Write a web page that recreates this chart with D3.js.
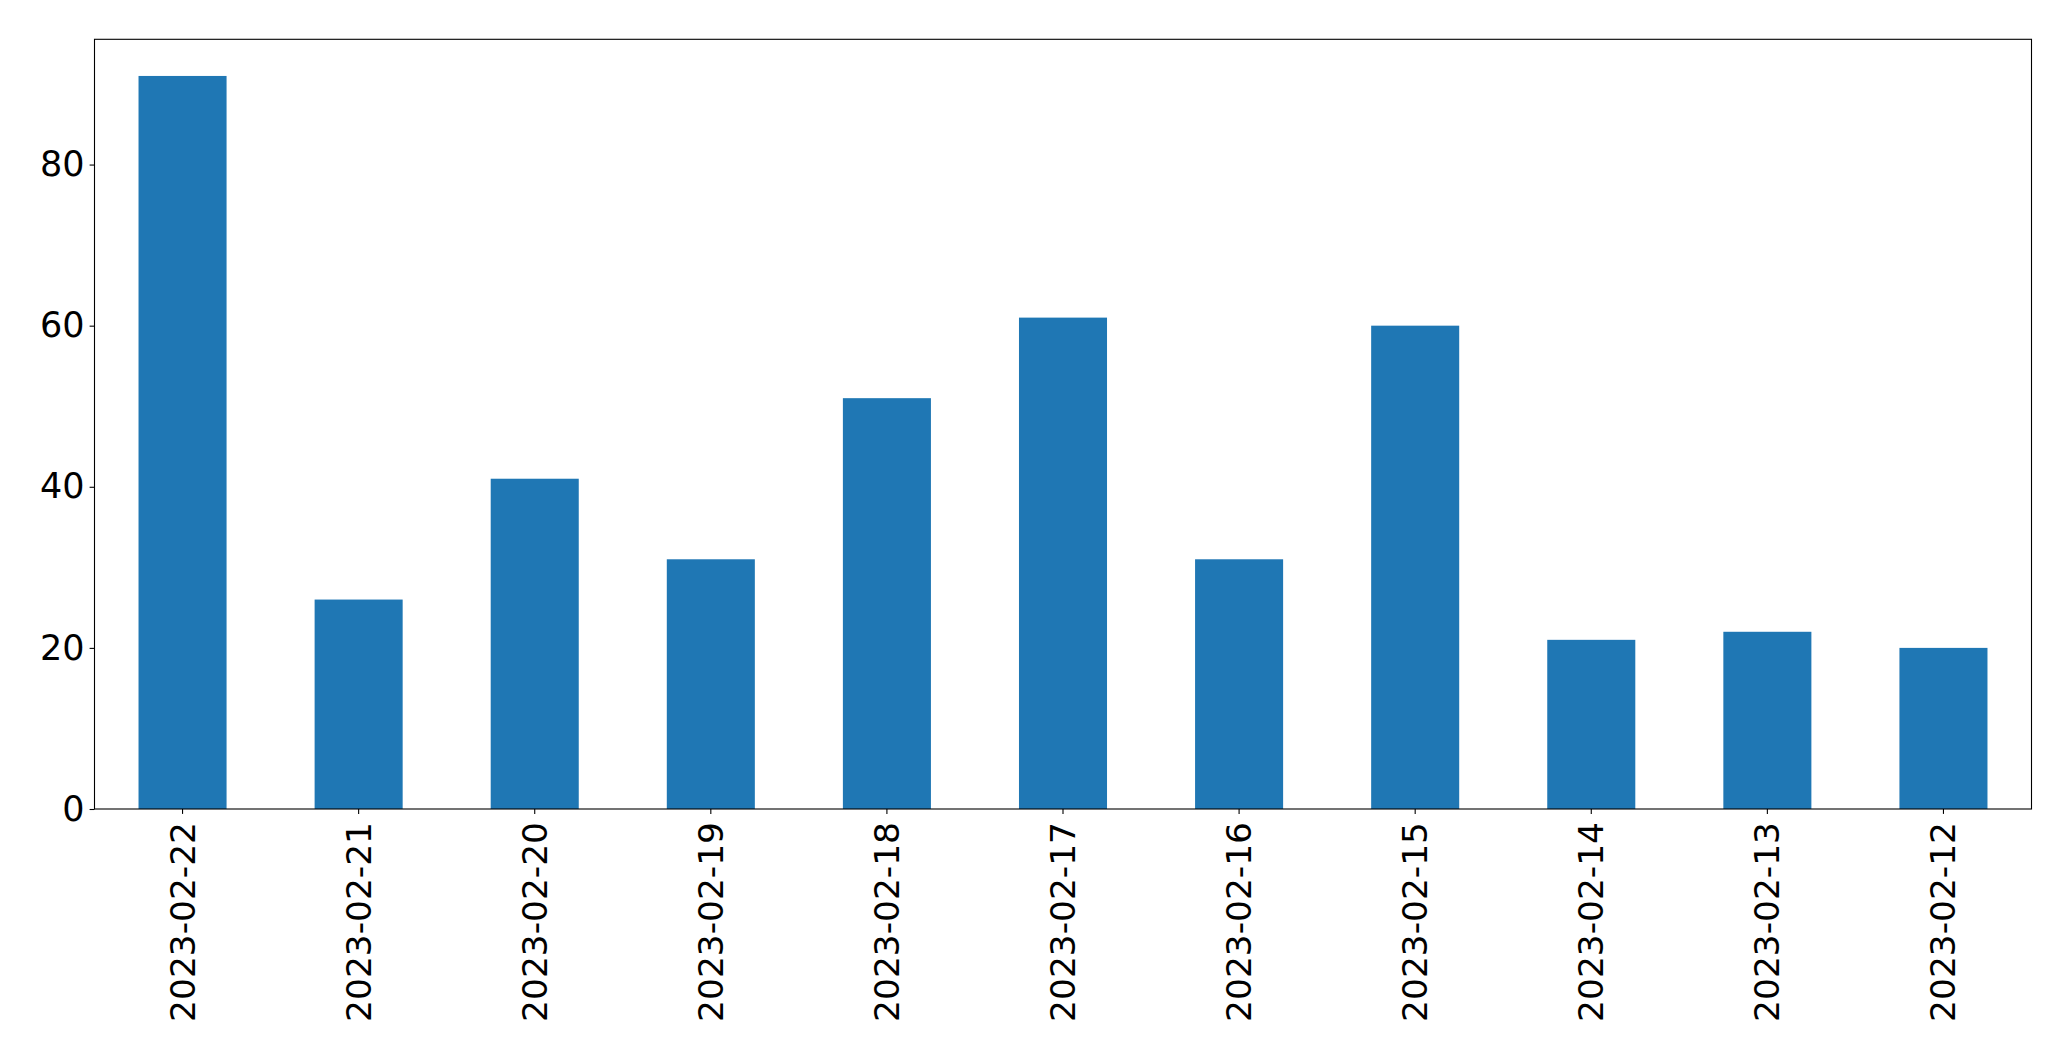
<!DOCTYPE html>
<html><head><meta charset="utf-8">
<script src="https://cdn.jsdelivr.net/npm/d3@7"></script>
<style>html,body{margin:0;padding:0;background:#fff;}svg{display:block;}</style>
</head><body>
<script>
const categories = ["2023-02-22","2023-02-21","2023-02-20","2023-02-19","2023-02-18","2023-02-17","2023-02-16","2023-02-15","2023-02-14","2023-02-13","2023-02-12"];
const values = [91, 26, 41, 31, 51, 61, 31, 60, 21, 22, 20];
const yTicks = [0, 20, 40, 60, 80];

const W = 2071, H = 1061;
const m = {left: 94.5, right: 2031.5, top: 39.3, bottom: 809};
const svg = d3.select("body").append("svg").attr("width", W).attr("height", H);
const font = "'DejaVu Sans', sans-serif";
const fs = 34.4;

const x = d3.scaleBand().domain(categories).range([m.left, m.right]).paddingInner(0.5).paddingOuter(0.25);
const y = d3.scaleLinear().domain([0, d3.max(values) * 1.05]).range([m.bottom, m.top]);

svg.append("g").selectAll("rect").data(values).join("rect")
  .attr("x", (d, i) => x(categories[i]))
  .attr("width", x.bandwidth())
  .attr("y", d => y(d))
  .attr("height", d => y(0) - y(d))
  .attr("fill", "#1f77b4");

// y axis
const ya = svg.append("g").attr("transform", `translate(${m.left},0)`)
  .call(d3.axisLeft(y).tickValues(yTicks).tickSize(4.9).tickPadding(5).tickFormat(d3.format("d")));
ya.select(".domain").remove();
ya.selectAll("line").attr("stroke", "#000").attr("stroke-width", 1.1);
ya.selectAll("text").attr("font-family", font).attr("font-size", 35).attr("fill", "#000");

// x axis
const xa = svg.append("g").attr("transform", `translate(0,${m.bottom})`)
  .call(d3.axisBottom(x).tickSize(4.9).tickPadding(5));
xa.select(".domain").remove();
xa.selectAll("line").attr("stroke", "#000").attr("stroke-width", 1.1);
xa.selectAll("text")
  .attr("font-family", font).attr("font-size", fs).attr("fill", "#000")
  .attr("y", 0).attr("dy", null)
  .attr("transform", "translate(0,13) rotate(-90)")
  .attr("text-anchor", "end")
  .attr("dominant-baseline", "central");

// frame
svg.append("rect").attr("x", m.left).attr("y", m.top)
  .attr("width", m.right - m.left).attr("height", m.bottom - m.top)
  .attr("fill", "none").attr("stroke", "#000").attr("stroke-width", 1.1);
</script>
</body></html>
